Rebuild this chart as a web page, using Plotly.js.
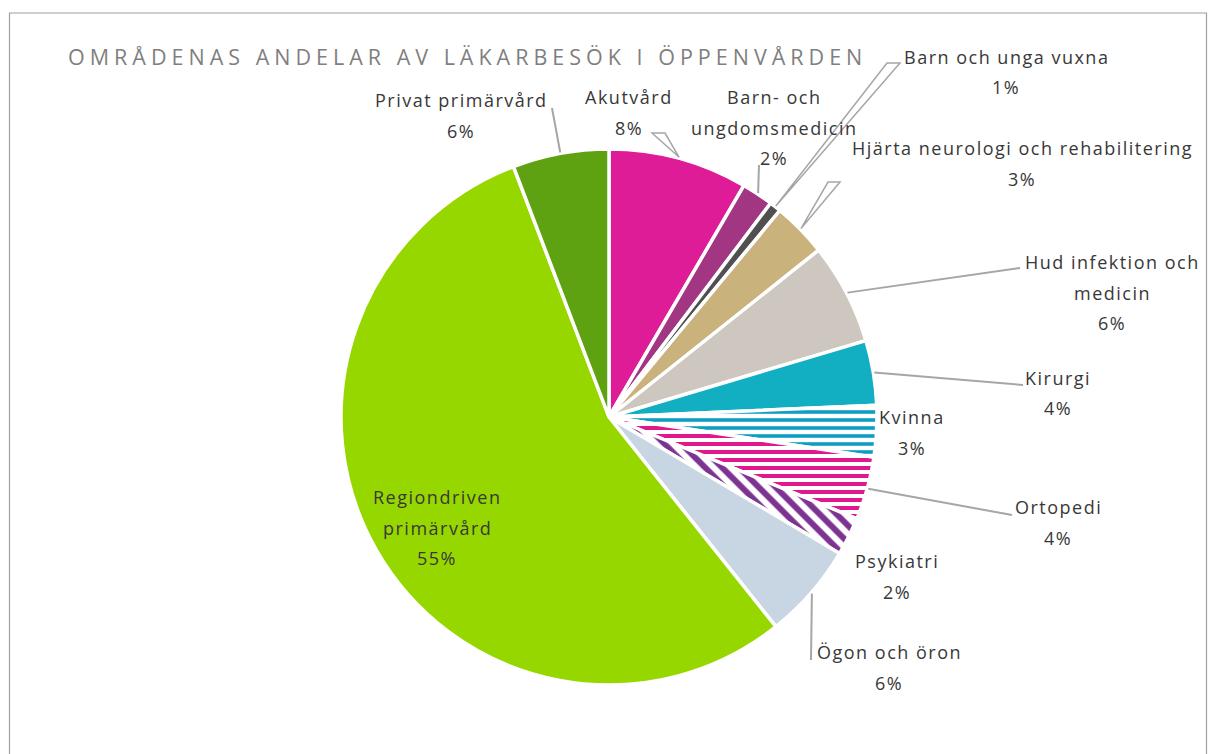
<!DOCTYPE html>
<html>
<head>
<meta charset="utf-8">
<script src="https://cdn.plot.ly/plotly-3.0.1.min.js"></script>
<style>
  html, body { margin: 0; padding: 0; background: #fff; }
  #chart { width: 1208px; height: 754px; }
  .gtitle { letter-spacing: 5px; }
  .annotation-text { letter-spacing: 1.5px; }
</style>
</head>
<body>
<div id="chart"></div>
<script>
// ---- Data ----
const categories = [
  "Akutvård",
  "Barn- och ungdomsmedicin",
  "Barn och unga vuxna",
  "Hjärta neurologi och rehabilitering",
  "Hud infektion och medicin",
  "Kirurgi",
  "Kvinna",
  "Ortopedi",
  "Psykiatri",
  "Ögon och öron",
  "Regiondriven primärvård",
  "Privat primärvård"
];
const shares = [8.4, 1.9, 0.7, 3.3, 6.1, 3.9, 3.1, 3.8, 2.3, 5.8, 54.9, 5.8];
const labelLines = [
  ["Akutvård"],
  ["Barn- och", "ungdomsmedicin"],
  ["Barn och unga vuxna"],
  ["Hjärta neurologi och rehabilitering"],
  ["Hud infektion och", "medicin"],
  ["Kirurgi"],
  ["Kvinna"],
  ["Ortopedi"],
  ["Psykiatri"],
  ["Ögon och öron"],
  ["Regiondriven", "primärvård"],
  ["Privat primärvård"]
];
const titleText = "OMRÅDENAS ANDELAR AV LÄKARBESÖK I ÖPPENVÅRDEN";

// ---- Styles ----
const sliceColors = ['#DE1C98','#A33683','#505050','#C9B27C','#CEC7C0','#12AEC2',
                     '#EEF4F8','#FBF0F6','#F4F1F6','#C7D6E2','#97D700','#5EA211'];
const patternShapes = ['','','','','','','-','-','\\','','',''];
const patternFg = ['#000','#000','#000','#000','#000','#000','#0E9EC2','#E0188C','#7D3391','#000','#000','#000'];
const patternSize = [8,8,8,8,8,8,8,8,12,8,8,8];
const patternSolidity = [0.45,0.45,0.45,0.45,0.45,0.45,0.45,0.5,0.5,0.45,0.45,0.45];

// ---- Geometry / layout config (pixels) ----
const W = 1208, H = 754;
const CX = 609, CY = 417, R = 268;
const LINE_GAP = 30.5;
// label placement: first-line centre, connector type and connector end
const labelPlace = [
  {x: 629, y: 97,  kind: 'wedge', ex: 652, ey: 133, w: 13},
  {x: 774, y: 97,  kind: 'line',  ex: 759, ey: 165},
  {x: 1006, y: 57, kind: 'wedge', ex: 887, ey: 63, w: 13},
  {x: 1022, y: 148, kind: 'wedge', ex: 828, ey: 182, w: 12},
  {x: 1112, y: 262, kind: 'line', ex: 1020, ey: 268},
  {x: 1058, y: 378, kind: 'line', ex: 1023, ey: 385},
  {x: 912, y: 417, kind: 'none'},
  {x: 1058, y: 507, kind: 'line', ex: 1012, ey: 515},
  {x: 897, y: 561, kind: 'none'},
  {x: 889, y: 652, kind: 'line', ex: 811, ey: 660},
  {x: 437, y: 497, kind: 'none'},
  {x: 461, y: 100, kind: 'line', ex: 552, ey: 108}
];

const px = x => x / W;
const py = y => 1 - y / H;

const total = shares.reduce((a, b) => a + b, 0);
const pctText = shares.map(v => Math.round(v / total * 100) + '%');

// mid-angle of each slice (clockwise from 12 o'clock)
let cum = 0;
const midAngles = shares.map(v => {
  const mid = (cum + v / 2) / total * 2 * Math.PI;
  cum += v;
  return mid;
});

const annotations = [];
const shapes = [];

// chart frame
shapes.push({type: 'rect', xref: 'paper', yref: 'paper',
  x0: px(9.5), x1: px(1206.5), y0: py(13), y1: py(800),
  line: {color: '#A0A0A0', width: 1.2}, fillcolor: 'rgba(0,0,0,0)', layer: 'below'});

categories.forEach((cat, i) => {
  const p = labelPlace[i];
  const lines = labelLines[i].concat([pctText[i]]);
  lines.forEach((t, k) => {
    annotations.push({
      xref: 'paper', yref: 'paper', x: px(p.x), y: py(p.y + k * LINE_GAP),
      xanchor: 'center', yanchor: 'middle', showarrow: false, text: t,
      font: {family: 'Open Sans, sans-serif', size: 18, color: '#383838'}
    });
  });
  const a = midAngles[i];
  const sx = CX + (R + 1) * Math.sin(a);
  const sy = CY - (R + 1) * Math.cos(a);
  if (p.kind === 'line') {
    shapes.push({type: 'line', xref: 'paper', yref: 'paper',
      x0: px(sx), y0: py(sy), x1: px(p.ex), y1: py(p.ey),
      line: {color: '#A6A6A6', width: 2}});
  } else if (p.kind === 'wedge') {
    const path = 'M' + px(sx) + ',' + py(sy) + ' L' + px(p.ex) + ',' + py(p.ey) +
                 ' L' + px(p.ex + p.w) + ',' + py(p.ey) + ' Z';
    shapes.push({type: 'path', xref: 'paper', yref: 'paper', path: path,
      fillcolor: '#FFFFFF', line: {color: '#A6A6A6', width: 1.5}});
  }
});

const trace = {
  type: 'pie',
  labels: categories,
  values: shares,
  sort: false,
  direction: 'clockwise',
  rotation: 0,
  textinfo: 'none',
  hoverinfo: 'label+percent',
  domain: {x: [px(CX - R), px(CX + R)], y: [py(CY + R), py(CY - R)]},
  marker: {
    colors: sliceColors,
    line: {color: '#FFFFFF', width: 3.5},
    pattern: {shape: patternShapes, fgcolor: patternFg, size: patternSize,
              solidity: patternSolidity, fillmode: 'replace'}
  },
  showlegend: false
};

const layout = {
  width: W, height: H,
  margin: {l: 0, r: 0, t: 0, b: 0},
  paper_bgcolor: '#FFFFFF',
  showlegend: false,
  title: {
    text: titleText,
    x: px(68), xanchor: 'left', xref: 'paper',
    y: py(57), yanchor: 'middle', yref: 'container',
    font: {family: 'Open Sans, sans-serif', size: 21.5, color: '#7F7F7F'}
  },
  annotations: annotations,
  shapes: shapes
};

Plotly.newPlot('chart', [trace], layout, {displayModeBar: false, staticPlot: true});
</script>
</body>
</html>
